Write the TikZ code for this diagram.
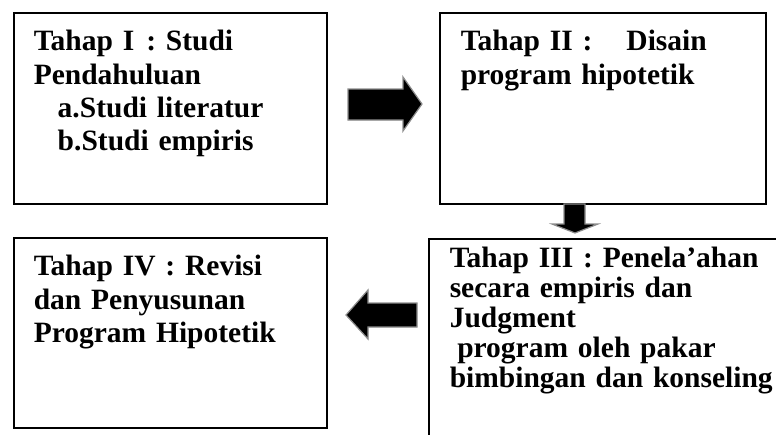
\documentclass[tikz,border=0pt]{standalone}
\usepackage{fontspec}
\setmainfont{Liberation Serif}

\tikzset{
  tahap/.style={draw, line width=1.5pt, anchor=north west, align=left, inner ysep=10pt,
    font=\bfseries\fontsize{29.5}{33.3}\selectfont\frenchspacing},
  panah/.style={fill=black, draw=black!45, line width=1.2pt, line join=miter},
}

\begin{document}
\begin{tikzpicture}[x=1pt,y=-1pt]
\useasboundingbox (0,0) rectangle (776,434);
\clip (0,0) rectangle (776,434);
\fill[white] (0,0) rectangle (776,434);

% kotak tahap
\node[tahap, inner xsep=20pt, text width=273pt, text height=28pt, text depth=143pt] (tahapI) at (13,12)
  {Tahap I\hspace*{12pt}: Studi\\
   Pendahuluan\\
   \hspace*{24pt}a.Studi literatur\\
   \hspace*{24pt}b.Studi empiris};
\node[tahap, inner xsep=21pt, text width=284pt, text height=28pt, text depth=143pt] (tahapII) at (439,12)
  {Tahap II :\hspace*{34pt}Disain\\
   program hipotetik};
\node[tahap, inner xsep=21pt, inner ysep=5pt, text width=360pt, text height=24pt, text depth=260pt,
  font=\bfseries\fontsize{29.5}{30}\selectfont\frenchspacing] (tahapIII) at (428,238)
  {Tahap III : Penela'ahan\\
   secara empiris dan\\
   Judgment\\
   \hspace*{7.5pt}program oleh pakar\\
   bimbingan dan konseling};
\node[tahap, inner xsep=20pt, text width=273pt, text height=28pt, text depth=142pt] (tahapIV) at (13,237)
  {Tahap IV : Revisi\\
   dan Penyusunan\\
   Program Hipotetik};

% panah blok
\draw[panah] (348,89) -- (403,89) -- (403,77) -- (422,104) -- (403,131) -- (403,120) -- (348,120) -- cycle;
\draw[panah] (564,204) -- (585,204) -- (585,224) -- (598,224) -- (575,233) -- (552,224) -- (564,224) -- cycle;
\draw[panah] (417,303) -- (368,303) -- (368,290) -- (346,315) -- (368,339) -- (368,327) -- (417,327) -- cycle;
\end{tikzpicture}
\end{document}
